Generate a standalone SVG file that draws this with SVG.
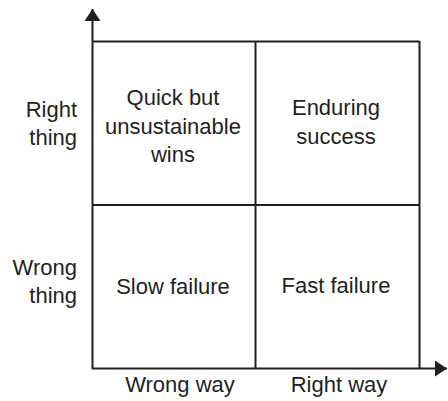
<svg xmlns="http://www.w3.org/2000/svg" width="448" height="401" viewBox="0 0 448 401">
<style>
.ln{stroke:#231f20;stroke-width:2;fill:none}
text{font-family:"Liberation Sans",Arial,sans-serif;font-size:22px;fill:#231f20}
.c{text-anchor:middle}
.r{text-anchor:end}
</style>
<defs>
<marker id="ah" markerWidth="12" markerHeight="16" refX="12" refY="8" orient="auto" markerUnits="userSpaceOnUse">
<path d="M0,0 L12,8 L0,16 Z" fill="#231f20"/>
</marker>
</defs>
<rect width="448" height="401" fill="#fff"/>
<g id="connectors">
<line class="ln" x1="92.5" y1="369" x2="92.5" y2="9" marker-end="url(#ah)"/>
<line class="ln" x1="92" y1="368.5" x2="447" y2="368.5" marker-end="url(#ah)"/>
</g>
<g id="grid">
<line class="ln" x1="92" y1="41.5" x2="419.5" y2="41.5"/>
<line class="ln" x1="92" y1="205" x2="419.5" y2="205"/>
<line class="ln" x1="255.5" y1="41" x2="255.5" y2="369"/>
<line class="ln" x1="419.5" y1="41" x2="419.5" y2="369"/>
</g>
<g id="q-quick">
<text class="c" x="173" y="105">Quick but</text>
<text class="c" x="173" y="134">unsustainable</text>
<text class="c" x="173" y="162">wins</text>
</g>
<g id="q-enduring">
<text class="c" x="336" y="115">Enduring</text>
<text class="c" x="336" y="144">success</text>
</g>
<g id="q-slow">
<text class="c" x="173" y="294">Slow failure</text>
</g>
<g id="q-fast">
<text class="c" x="336" y="293">Fast failure</text>
</g>
<g id="y-right">
<text class="r" x="77" y="117">Right</text>
<text class="r" x="77" y="145">thing</text>
</g>
<g id="y-wrong">
<text class="r" x="77" y="275">Wrong</text>
<text class="r" x="77" y="303">thing</text>
</g>
<g id="x-wrong">
<text class="c" x="180" y="392">Wrong way</text>
</g>
<g id="x-right">
<text class="c" x="339" y="392">Right way</text>
</g>
</svg>
